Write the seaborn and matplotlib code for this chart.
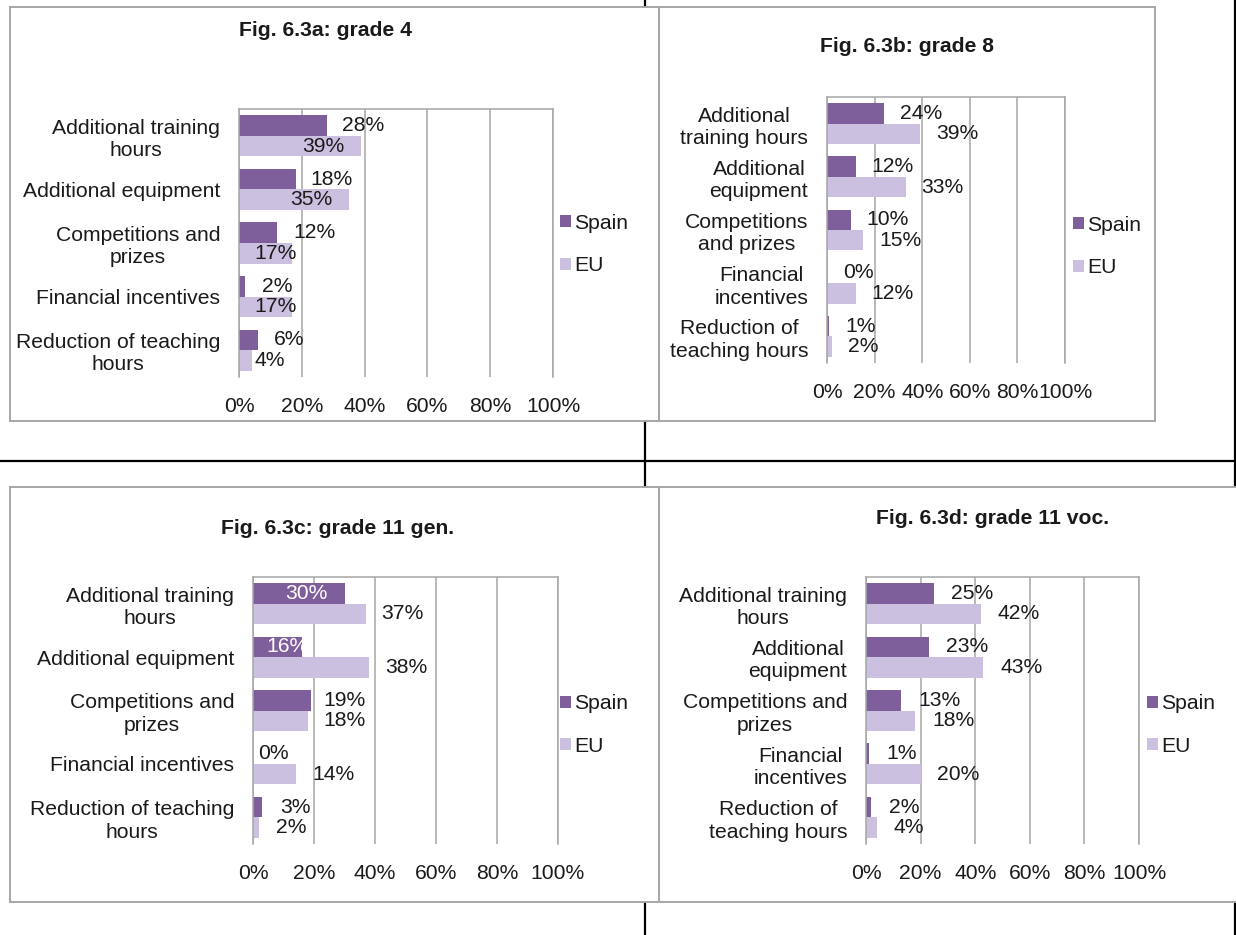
import matplotlib
matplotlib.use("Agg")
import matplotlib.pyplot as plt
from matplotlib.patches import Rectangle, Patch
from matplotlib.lines import Line2D
import seaborn as sns
import pandas as pd

# ---- data -------------------------------------------------------------
series = ["Spain", "EU"]

titles = ["Fig. 6.3a: grade 4", "Fig. 6.3b: grade 8",
          "Fig. 6.3c: grade 11 gen.", "Fig. 6.3d: grade 11 voc."]

labels_a = ["Additional training\nhours", "Additional equipment",
            "Competitions and\nprizes", "Financial incentives",
            "Reduction of teaching\nhours"]
spain_a = [28, 18, 12, 2, 6]
eu_a = [39, 35, 17, 17, 4]

labels_b = ["Additional\ntraining hours", "Additional\nequipment",
            "Competitions\nand prizes", "Financial\nincentives",
            "Reduction of\nteaching hours"]
spain_b = [24, 12, 10, 0, 1]
eu_b = [39, 33, 15, 12, 2]

labels_c = ["Additional training\nhours", "Additional equipment",
            "Competitions and\nprizes", "Financial incentives",
            "Reduction of teaching\nhours"]
spain_c = [30, 16, 19, 0, 3]
eu_c = [37, 38, 18, 14, 2]

labels_d = ["Additional training\nhours", "Additional\nequipment",
            "Competitions and\nprizes", "Financial\nincentives",
            "Reduction of\nteaching hours"]
spain_d = [25, 23, 13, 1, 2]
eu_d = [42, 43, 18, 20, 4]

x_ticks = [0, 20, 40, 60, 80, 100]

# ---- style ------------------------------------------------------------
SPAIN = "#7F5F9B"
EU = "#CCC0E0"
GRID = "#A6A6A6"
INK = "#1A1A1A"

sns.set_theme(style="white")
FS = 15.2
plt.rcParams["font.family"] = ["Liberation Sans", "DejaVu Sans"]
plt.rcParams["font.size"] = FS

W, H = 1236, 935
fig = plt.figure(figsize=(W / 100, H / 100), dpi=100)
fig.patch.set_facecolor("white")


def fx(px):
    return px / W


def fy(py):
    return 1 - py / H


# page rules behind the chart frames
for xs, ys in [((645, 645), (0, 935)), ((1235, 1235), (0, 935)),
               ((0, 1235), (461, 461))]:
    fig.add_artist(Line2D([fx(v) for v in xs], [fy(v) for v in ys],
                          color="black", lw=1.6, zorder=-3))

# layout of each chart: frame, plot area, title, legend, label offsets
panels = [
    dict(labels=labels_a, spain=spain_a, eu=eu_a, title=titles[0],
         frame=(10, 7, 659, 421), plot=(239, 109, 553, 377),
         title_xy=(326, 31), legend_xy=(560, 244.5),
         lab_spain=[39.5, 29.6, 23.9, 12.1, 15.9],
         lab_eu=[26.8, 22.9, 11.5, 11.5, 9.9],
         white_spain=[]),
    dict(labels=labels_b, spain=spain_b, eu=eu_b, title=titles[1],
         frame=(659, 7, 1155, 421), plot=(827, 97, 1065, 363),
         title_xy=(907, 47), legend_xy=(1073, 246.5),
         lab_spain=[39.5, 27.7, 25.6, 13.2, 14.3],
         lab_eu=[54.6, 48.3, 30.7, 27.7, 15.1],
         white_spain=[]),
    dict(labels=labels_c, spain=spain_c, eu=eu_c, title=titles[2],
         frame=(10, 487, 659, 902), plot=(253, 577, 558, 844),
         title_xy=(338, 528), legend_xy=(560, 725),
         lab_spain=[17.5, 11.4, 30.1, 6.8, 14.0],
         lab_eu=[49.0, 50.2, 30.1, 26.3, 12.4],
         white_spain=[0, 1]),
    dict(labels=labels_d, spain=spain_d, eu=eu_d, title=titles[3],
         frame=(659, 487, 1245, 902), plot=(866, 577, 1139, 844),
         title_xy=(993, 519), legend_xy=(1147, 725),
         lab_spain=[38.9, 36.9, 27.1, 13.2, 14.0],
         lab_eu=[55.9, 57.0, 32.1, 33.9, 15.8],
         white_spain=[]),
]

for p in panels:
    x0, y0, x1, y1 = p["frame"]
    fig.add_artist(Rectangle((fx(x0), fy(y1)), fx(x1) - fx(x0), fy(y0) - fy(y1),
                             transform=fig.transFigure, facecolor="white",
                             edgecolor=GRID, lw=1.4, zorder=-1))

    ax0, ay0, ax1, ay1 = p["plot"]
    ax = fig.add_axes([fx(ax0), fy(ay1), fx(ax1) - fx(ax0), fy(ay0) - fy(ay1)])
    ax.patch.set_alpha(0)

    df = pd.DataFrame({
        "category": p["labels"] * 2,
        "share": p["spain"] + p["eu"],
        "group": [series[0]] * len(p["spain"]) + [series[1]] * len(p["eu"]),
    })
    sns.barplot(data=df, x="share", y="category", hue="group",
                order=p["labels"], hue_order=series,
                palette={"Spain": SPAIN, "EU": EU}, orient="h",
                width=0.77, saturation=1, errorbar=None, legend=False,
                linewidth=0, ax=ax)

    ax.set_xlim(0, 100)
    ax.set_xticks(x_ticks)
    ax.set_xticklabels([f"{t}%" for t in x_ticks])
    ax.set_xlabel("")
    ax.set_ylabel("")
    ax.set_axisbelow(True)
    ax.xaxis.grid(True, color=GRID, lw=1.1)
    ax.yaxis.grid(False)
    for side in ("left", "top", "right"):
        ax.spines[side].set_visible(True)
        ax.spines[side].set_color(GRID)
        ax.spines[side].set_linewidth(1.1)
    ax.spines["bottom"].set_visible(False)
    ax.tick_params(axis="both", length=0, labelsize=FS, colors=INK)
    ax.tick_params(axis="x", pad=14.5)
    ax.tick_params(axis="y", pad=13.5)
    for t in ax.get_yticklabels():
        t.set_multialignment("center")
        t.set_linespacing(1.22)

    # value labels next to the bars
    for cont, vals, xs, name in zip(ax.containers, (p["spain"], p["eu"]),
                                    (p["lab_spain"], p["lab_eu"]), series):
        for i, (bar, v, xl) in enumerate(zip(cont, vals, xs)):
            yc = bar.get_y() + bar.get_height() / 2
            col = "white" if (name == "Spain" and i in p["white_spain"]) else INK
            ax.text(xl, yc, f"{v}%", ha="center", va="center",
                    fontsize=FS, color=col)

    fig.text(fx(p["title_xy"][0]), fy(p["title_xy"][1]), p["title"],
             ha="center", va="center", fontweight="bold", fontsize=FS,
             color=INK)

    handles = [Patch(facecolor=SPAIN, edgecolor="none"),
               Patch(facecolor=EU, edgecolor="none")]
    ax.legend(handles, series, loc="center left",
              bbox_to_anchor=(fx(p["legend_xy"][0]), fy(p["legend_xy"][1])),
              bbox_transform=fig.transFigure, frameon=False,
              handlelength=0.52, handleheight=0.52, handletextpad=0.15,
              labelspacing=1.12, borderpad=0, borderaxespad=0,
              fontsize=FS, labelcolor=INK)

fig.savefig("out.png", dpi=100)
